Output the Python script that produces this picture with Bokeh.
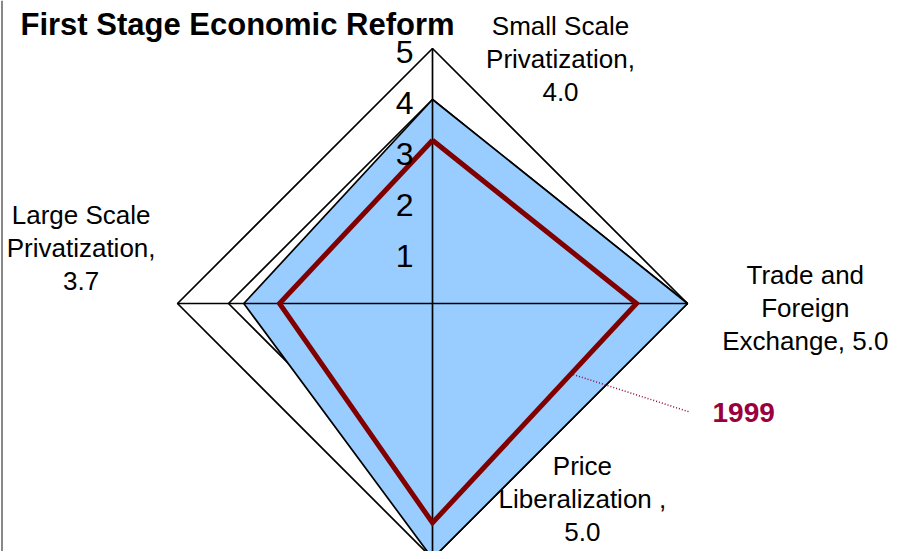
import math
from bokeh.plotting import figure
from bokeh.models import Range1d, Span
from bokeh.core.properties import value
from bokeh.embed import file_html
from bokeh.resources import INLINE

# ---------------- data ----------------
categories = ["Small Scale\nPrivatization", "Trade and\nForeign\nExchange",
              "Price\nLiberalization ", "Large Scale\nPrivatization"]
label_sep = [",\n", ", ", ",\n", ",\n"]
current_scores = [4.0, 5.0, 5.0, 3.7]      # blue filled series (labelled)
other_scores = [4.0, 5.0, 4.0, 4.0]        # black outline series
scores_1999 = [3.2, 4.0, 4.3, 3.0]         # dark red series
tick_values = [1, 2, 3, 4, 5]
tick_labels = ["1", "2", "3", "4", "5"]
max_value = 5
series_name = "1999"
title_text = "First Stage Economic Reform"

# ---------------- layout ----------------
W, H = 891, 551
CX, CY = 432, 303          # centre of radar in canvas pixels
PX = 51.0                  # pixels per unit
angles = [90, 0, -90, 180]
label_pos = [(2.51, 4.80), (7.31, -0.08), (2.94, -3.83), (-6.89, 1.08)]

FONT = value("Liberation Sans")

p = figure(width=W, height=H, output_backend="svg", toolbar_location=None,
           x_range=Range1d(-CX / PX, (W - CX) / PX),
           y_range=Range1d(-(H - CY) / PX, CY / PX),
           min_border=0)
p.axis.visible = False
p.grid.visible = False
p.outline_line_color = None
p.background_fill_color = "white"

# left frame edge
p.add_layout(Span(location=(1.5 - CX) / PX, dimension="height",
                  line_color="#888888", line_width=2))


def polygon(vals):
    xs = [v * math.cos(math.radians(a)) for v, a in zip(vals, angles)]
    ys = [v * math.sin(math.radians(a)) for v, a in zip(vals, angles)]
    return xs + xs[:1], ys + ys[:1]


# outer grid ring
gx, gy = polygon([max_value] * 4)
p.line(gx, gy, line_color="black", line_width=1.7)

# other series (black outline)
ox, oy = polygon(other_scores)
p.line(ox, oy, line_color="black", line_width=1.7)

# blue filled series
bx, by = polygon(current_scores)
p.patch(bx, by, fill_color="#99CCFF", line_color="black", line_width=1.7)

# spokes
for a in angles:
    p.line([0, max_value * math.cos(math.radians(a))],
           [0, max_value * math.sin(math.radians(a))],
           line_color="black", line_width=1.7)

# 1999 series
rx, ry = polygon(scores_1999)
p.line(rx, ry, line_color="#800000", line_width=5, line_join="miter")

# tick labels along vertical axis
p.text(x=[-0.37] * len(tick_values), y=[v - 0.06 for v in tick_values],
       text=tick_labels, text_font=FONT, text_font_size="32px",
       text_align="right", text_baseline="middle", text_color="black")

# category labels
texts = [c + s + f"{v:.1f}" for c, s, v in zip(categories, label_sep, current_scores)]
p.text(x=[lp[0] for lp in label_pos], y=[lp[1] for lp in label_pos], text=texts,
       text_font=FONT, text_font_size="26px", text_align="center",
       text_baseline="middle", text_line_height=1.10, text_color="black")

# 1999 leader + label
t = 0.31
sx = rx[1] + (rx[2] - rx[1]) * t
sy = ry[1] + (ry[2] - ry[1]) * t - 0.06
p.line([sx, 5.02], [sy, -2.12], line_color="#99003D", line_width=1.5,
       line_dash="1 2")
p.text(x=[5.49], y=[-2.14], text=[series_name], text_font=FONT,
       text_font_size="28px", text_font_style="bold", text_color="#99003D",
       text_align="left", text_baseline="middle")

# title
p.text(x=[(20 - CX) / PX], y=[(CY - 24) / PX], text=[title_text], text_font=FONT,
       text_font_size="31px", text_font_style="bold", text_color="black",
       text_align="left", text_baseline="alphabetic")

open("out.html", "w").write(file_html(p, INLINE))
